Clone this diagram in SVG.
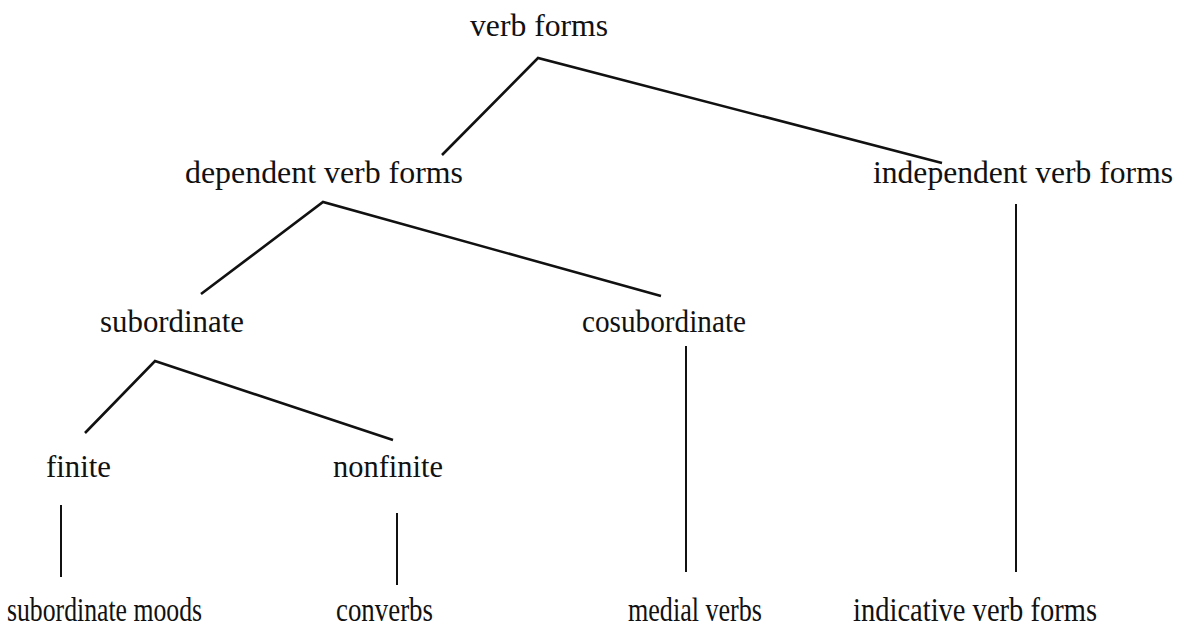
<svg xmlns="http://www.w3.org/2000/svg" width="1177" height="628" viewBox="0 0 1177 628">
<style>
text{font-family:"Liberation Serif","Times New Roman",serif;font-size:32px;fill:#111}
.b{font-size:34px}
.e{fill:none;stroke:#111;stroke-width:2.6;stroke-linejoin:miter}
.v{fill:none;stroke:#111;stroke-width:2}
</style>
<rect width="1177" height="628" fill="#fff"/>
<g id="connectors">
<polyline class="e" points="442,155 538,58 942,163"/>
<polyline class="e" points="201,294 323,202 661,296"/>
<polyline class="e" points="85,433 155,361 393,440"/>
<line class="v" x1="61" y1="505" x2="61" y2="577"/>
<line class="v" x1="397" y1="513" x2="397" y2="585"/>
<line class="v" x1="686" y1="346" x2="686" y2="572"/>
<line class="v" x1="1016" y1="204" x2="1016" y2="572"/>
</g>
<g id="n-verb-forms"><text x="470" y="36" textLength="138" lengthAdjust="spacingAndGlyphs">verb forms</text></g>
<g id="n-dependent"><text x="185" y="183" textLength="278" lengthAdjust="spacingAndGlyphs">dependent verb forms</text></g>
<g id="n-independent"><text x="873" y="183" textLength="300" lengthAdjust="spacingAndGlyphs">independent verb forms</text></g>
<g id="n-subordinate"><text x="100" y="332" textLength="144" lengthAdjust="spacingAndGlyphs">subordinate</text></g>
<g id="n-cosubordinate"><text x="582" y="332" textLength="164" lengthAdjust="spacingAndGlyphs">cosubordinate</text></g>
<g id="n-finite"><text x="46" y="477" textLength="65" lengthAdjust="spacingAndGlyphs">finite</text></g>
<g id="n-nonfinite"><text x="333" y="477" textLength="110" lengthAdjust="spacingAndGlyphs">nonfinite</text></g>
<g id="n-subordinate-moods"><text class="b" x="7" y="621" textLength="195" lengthAdjust="spacingAndGlyphs">subordinate moods</text></g>
<g id="n-converbs"><text class="b" x="336" y="621" textLength="97" lengthAdjust="spacingAndGlyphs">converbs</text></g>
<g id="n-medial-verbs"><text class="b" x="628" y="621" textLength="134" lengthAdjust="spacingAndGlyphs">medial verbs</text></g>
<g id="n-indicative"><text class="b" x="853" y="621" textLength="244" lengthAdjust="spacingAndGlyphs">indicative verb forms</text></g>
</svg>
